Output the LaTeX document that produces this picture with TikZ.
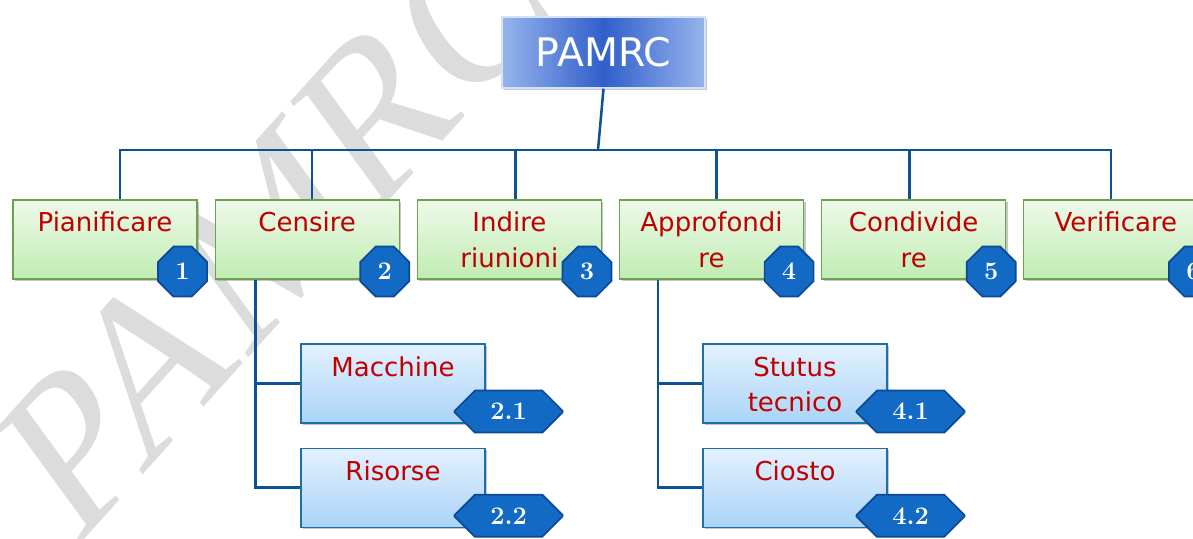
\documentclass[tikz,border=0pt]{standalone}
\usepackage{fontspec}
\newfontfamily\boxfont{DejaVu Sans}
\newfontfamily\markfont{Liberation Serif}
\usetikzlibrary{positioning,calc,shapes.misc,shadows}
\definecolor{linkblue}{RGB}{14,82,150}
\definecolor{textred}{RGB}{192,0,0}
\definecolor{greenedge}{RGB}{110,160,80}
\definecolor{greentop}{RGB}{238,250,234}
\definecolor{greenbot}{RGB}{192,236,178}
\definecolor{blueedge}{RGB}{30,110,170}
\definecolor{bluetop}{RGB}{228,241,255}
\definecolor{bluebot}{RGB}{170,212,246}
\definecolor{rootedge}{RGB}{150,180,236}
\definecolor{rootmid}{RGB}{30,80,196}
\definecolor{badgefill}{RGB}{18,106,196}
\definecolor{badgeedge}{RGB}{12,72,150}
\definecolor{wmgray}{RGB}{220,220,220}
\tikzset{
  link/.style={draw=linkblue, line width=1.8pt},
  task/.style={draw=greenedge, line width=0.8pt, top color=greentop, bottom color=greenbot,
    minimum width=4.6cm, text width=4.4cm, inner xsep=0.1cm, inner ysep=0pt,
    text height=0.8cm, text depth=1.175cm, align=center, text=textred,
    font=\boxfont\fontsize{18.5}{24.9}\selectfont,
    drop shadow={opacity=0.45, shadow xshift=1.5pt, shadow yshift=-1.5pt}},
  subtask/.style={task, draw=blueedge, top color=bluetop, bottom color=bluebot},
  root/.style={draw=white!60!rootedge, line width=1pt, left color=rootedge, right color=rootedge,
    middle color=rootmid!85!rootedge, minimum width=5.075cm, minimum height=1.775cm, text=white,
    font=\boxfont\fontsize{28}{28}\selectfont,
    drop shadow={opacity=0.45, shadow xshift=1.5pt, shadow yshift=-1.5pt}},
  badge/.style={chamfered rectangle, chamfered rectangle sep=0.33cm, fill=badgefill,
    draw=badgeedge, line width=1.2pt, text=white, inner sep=0pt,
    minimum width=1.225cm, minimum height=1.25cm,
    font=\bfseries\fontsize{18}{18}\selectfont},
  wide badge/.style={badge, minimum width=2.7cm, minimum height=1.05cm,
    chamfered rectangle sep=0.3cm},
  watermark/.style={text=wmgray, inner sep=0pt, font=\markfont\fontsize{168}{168}\selectfont}
}
\begin{document}
\begin{tikzpicture}[x=0.025cm, y=-0.025cm]
  \useasboundingbox (0,0) rectangle (1193,539);
  \begin{scope}
    \clip (0,0) rectangle (1193,539);
    \node[watermark, xscale=0.81, rotate=42, anchor=center] (wm) at (276,223) {PAMRC};
  \end{scope}

  \node[root] (root) at (603.5,52.5) {PAMRC};

  % first level
  \node[task] (p1) at (105,239.5) {Pianificare};
  \node[task, right=0.425cm of p1] (p2) {Censire};
  \node[task, right=0.425cm of p2] (p3) {Indire\\riunioni};
  \node[task, right=0.425cm of p3] (p4) {Approfondi\\re};
  \node[task, right=0.425cm of p4] (p5) {Condivide\\re};
  \node[task, right=0.425cm of p5] (p6) {Verificare};

  % second level
  \node[subtask] (m1) at (393,383.5) {Macchine};
  \node[subtask, below=0.6cm of m1] (m2) {Risorse};
  \node[subtask] (s1) at (795,383.5) {Stutus\\tecnico};
  \node[subtask, below=0.6cm of s1] (s2) {Ciosto};

  \coordinate (hub) at (598,150);
  \draw[link] (root.south) -- (hub);
  \foreach \n/\dx in {p1/15,p2/5,p3/6,p4/5,p5/-4,p6/-5}
    \draw[link] (hub) -| ([xshift=\dx*0.025cm]\n.north);

  \coordinate (c2) at ([xshift=1.025cm]p2.south west);
  \draw[link] (c2) |- (m1.west);
  \draw[link] (c2) |- (m2.west);
  \coordinate (c4) at ([xshift=0.975cm]p4.south west);
  \draw[link] (c4) |- (s1.west);
  \draw[link] (c4) |- (s2.west);

  \foreach \n/\t in {p1/1,p2/2,p3/3,p4/4,p5/5,p6/6}
    \node[badge] (b\n) at ($(\n.south east)+(-15,-8)$) {\t};
  \foreach \n/\t in {m1/2.1,m2/2.2,s1/4.1,s2/4.2}
    \node[wide badge] (b\n) at ($(\n.south east)+(23,-12)$) {\t};
\end{tikzpicture}
\end{document}
